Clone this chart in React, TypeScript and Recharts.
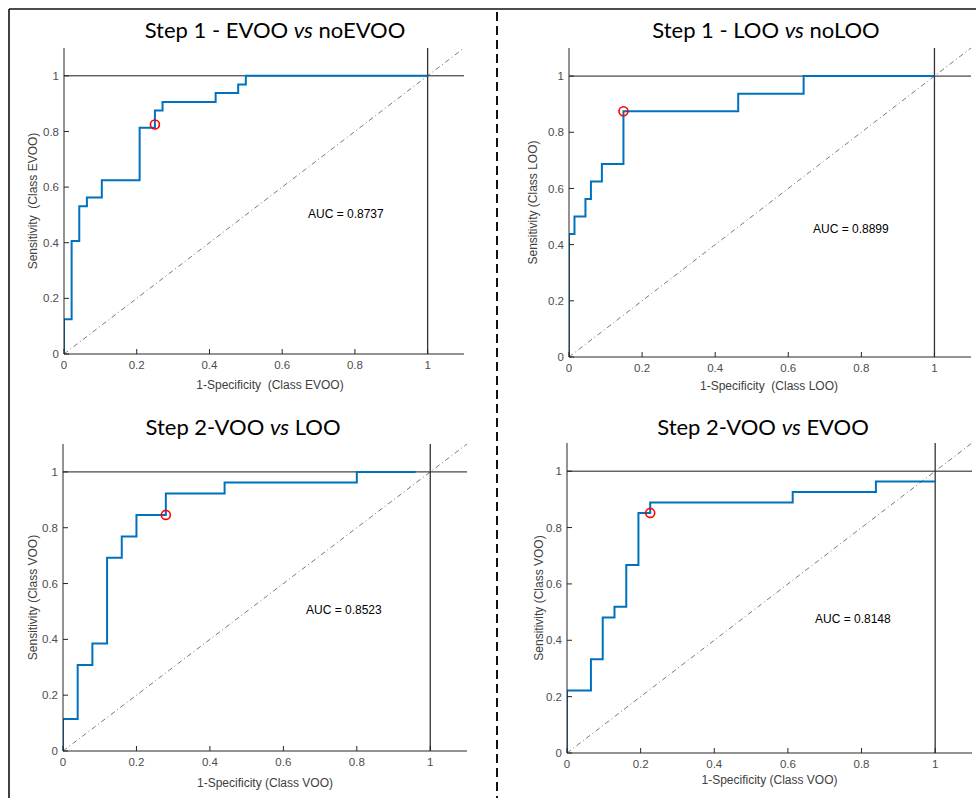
import React from 'react';
import { LineChart, Line, XAxis, YAxis, ReferenceLine, ReferenceDot, Label } from 'recharts';

const xTicks = [0, 0.2, 0.4, 0.6, 0.8, 1];
const yTicks = [0, 0.2, 0.4, 0.6, 0.8, 1];

// ROC steps: at each 1-specificity value the sensitivity rises to the matching tpr value
const evooFpr = [0, 0, 0.021, 0.042, 0.063, 0.104, 0.208, 0.25, 0.271, 0.417, 0.479, 0.5, 1];
const evooTpr = [0, 0.125, 0.406, 0.531, 0.563, 0.625, 0.813, 0.875, 0.906, 0.938, 0.969, 1, 1];
const evooOpt = [0.25, 0.825];

const looFpr = [0, 0, 0.015, 0.045, 0.06, 0.09, 0.149, 0.463, 0.642, 1];
const looTpr = [0, 0.4375, 0.5, 0.5625, 0.625, 0.6875, 0.875, 0.9375, 1, 1];
const looOpt = [0.149, 0.875];

const vooLooFpr = [0, 0, 0.04, 0.08, 0.12, 0.16, 0.2, 0.28, 0.44, 0.8, 0.96];
const vooLooTpr = [0, 0.115, 0.308, 0.385, 0.692, 0.769, 0.846, 0.923, 0.962, 1, 1];
const vooLooOpt = [0.28, 0.846];

const vooEvooFpr = [0, 0, 0.065, 0.097, 0.129, 0.161, 0.194, 0.226, 0.613, 0.839, 1];
const vooEvooTpr = [0, 0.222, 0.333, 0.481, 0.519, 0.667, 0.852, 0.889, 0.926, 0.963, 0.963];
const vooEvooOpt = [0.226, 0.852];

const aucValues = ['0.8737', '0.8899', '0.8523', '0.8148'];

const tickStyle = { fontFamily: 'Liberation Sans, Arial', fontSize: 11.5, fill: '#4d4d4d' };
const labelStyle = { fontFamily: 'Liberation Sans, Arial', fontSize: 12, fill: '#404040' };
const AXIS = '#262626';
const NB = '\u00a0';

type Box = { x: number; y: number; w: number; h: number };

interface PanelProps {
    title: React.ReactNode;
    titlePos: [number, number];
    fpr: number[];
    tpr: number[];
    opt: number[];
    auc: string;
    aucPos: [number, number];
    xLabel: string;
    yLabel: string;
    box: Box;
    xLabelOffset: number;
    xLabelDx: number;
    yLabelOffset: number;
}

function RocPanel(p: PanelProps) {
    const data = p.fpr.map((x, i) => ({ x, y: p.tpr[i] }));
    const left = 60, top = 20, bottom = 50, right = 10;

    return (
        <>
            <div style={{
                position: 'absolute', left: p.titlePos[0] - 200, top: p.titlePos[1] - 15, width: 400,
                textAlign: 'center', fontFamily: 'Lato', fontSize: 22, lineHeight: '30px', color: '#000'
            }}>{p.title}</div>
            <div style={{ position: 'absolute', left: p.box.x - left, top: p.box.y - top }}>
                <LineChart
                    width={p.box.w + left + right}
                    height={p.box.h + top + bottom}
                    data={data}
                    margin={{ top, right, bottom: 0, left: 20 }}
                >
                    <XAxis
                        type="number" dataKey="x" domain={[0, 1.1]} ticks={xTicks} allowDataOverflow
                        height={bottom} tickSize={-5} tickMargin={12} tick={tickStyle}
                        stroke={AXIS} axisLine={{ stroke: AXIS }} tickLine={{ stroke: AXIS }}
                    >
                        <Label value={p.xLabel} position="insideTop" offset={p.xLabelOffset} dx={p.xLabelDx} style={labelStyle} />
                    </XAxis>
                    <XAxis
                        xAxisId="top" orientation="top" type="number" domain={[0, 1.1]} ticks={xTicks}
                        height={0} tickSize={-5} tick={false} axisLine={{ stroke: AXIS }} tickLine={{ stroke: AXIS }}
                    />
                    <YAxis
                        type="number" domain={[0, 1.1]} ticks={yTicks} allowDataOverflow
                        width={40} tickSize={-5} tickMargin={10} tick={tickStyle}
                        axisLine={{ stroke: AXIS }} tickLine={{ stroke: AXIS }}
                    >
                        <Label value={p.yLabel} position="insideLeft" angle={-90} offset={p.yLabelOffset}
                            style={{ ...labelStyle, textAnchor: 'middle' }} />
                    </YAxis>
                    <YAxis
                        yAxisId="right" orientation="right" type="number" domain={[0, 1.1]} ticks={yTicks}
                        width={0} tickSize={-5} tick={false} axisLine={{ stroke: AXIS }} tickLine={{ stroke: AXIS }}
                    />
                    <ReferenceLine
                        segment={[{ x: 0, y: 0 }, { x: 1.1, y: 1.1 }]}
                        stroke="#555" strokeWidth={0.8} strokeDasharray="5 3 1 3"
                    />
                    <ReferenceLine y={1} stroke="#1a1a1a" strokeWidth={1} />
                    <ReferenceLine x={1} stroke="#333" strokeWidth={1.3} />
                    <Line
                        type="stepAfter" dataKey="y" stroke="#0072BD" strokeWidth={2}
                        dot={false} activeDot={false} isAnimationActive={false}
                    />
                    <ReferenceDot x={p.opt[0]} y={p.opt[1]} r={4.5} fill="none" stroke="#FF0000" strokeWidth={1.6} />
                </LineChart>
            </div>
            <div style={{
                position: 'absolute', left: p.aucPos[0], top: p.aucPos[1] - 7,
                fontFamily: 'Liberation Sans, Arial', fontSize: 12, lineHeight: '14px', color: '#000', whiteSpace: 'pre'
            }}>AUC = {p.auc}</div>
        </>
    );
}

export default function App() {
    return (
        <div style={{ position: 'absolute', left: 0, top: 0, width: 976, height: 798, background: '#fff', overflow: 'hidden' }}>
            {/* outer frame and divider */}
            <svg width={976} height={798} style={{ position: 'absolute', left: 0, top: 0 }}>
                <line x1={9} y1={9} x2={976} y2={9} stroke="#111" strokeWidth={1.6} />
                <line x1={9} y1={9} x2={9} y2={798} stroke="#111" strokeWidth={1.6} />
                <line x1={497} y1={12} x2={497} y2={798} stroke="#111" strokeWidth={2} strokeDasharray="9 5" />
            </svg>

            <RocPanel
                title={<>Step 1 - EVOO <i>vs</i> noEVOO</>} titlePos={[275, 30]}
                fpr={evooFpr} tpr={evooTpr} opt={evooOpt}
                auc={aucValues[0]} aucPos={[308, 214]}
                xLabel={`1-Specificity${NB} (Class EVOO)`} yLabel={`Sensitivity${NB} (Class EVOO)`}
                box={{ x: 64, y: 48, w: 400, h: 306 }}
                xLabelOffset={26} xLabelDx={6} yLabelOffset={9}
            />
            <RocPanel
                title={<>Step 1 - LOO <i>vs</i> noLOO</>} titlePos={[766, 30]}
                fpr={looFpr} tpr={looTpr} opt={looOpt}
                auc={aucValues[1]} aucPos={[813, 229]}
                xLabel={`1-Specificity${NB} (Class LOO)`} yLabel="Sensitivity (Class LOO)"
                box={{ x: 569, y: 48, w: 402, h: 309 }}
                xLabelOffset={24} xLabelDx={-1} yLabelOffset={4}
            />
            <RocPanel
                title={<>Step 2-VOO <i>vs</i> LOO</>} titlePos={[243, 427]}
                fpr={vooLooFpr} tpr={vooLooTpr} opt={vooLooOpt}
                auc={aucValues[2]} aucPos={[306, 610]}
                xLabel="1-Specificity (Class VOO)" yLabel="Sensitivity (Class VOO)"
                box={{ x: 63, y: 444, w: 404, h: 307 }}
                xLabelOffset={27} xLabelDx={0} yLabelOffset={10}
            />
            <RocPanel
                title={<>Step 2-VOO <i>vs</i> EVOO</>} titlePos={[763, 427]}
                fpr={vooEvooFpr} tpr={vooEvooTpr} opt={vooEvooOpt}
                auc={aucValues[3]} aucPos={[815, 619]}
                xLabel="1-Specificity (Class VOO)" yLabel="Sensitivity (Class VOO)"
                box={{ x: 567, y: 443, w: 405, h: 310 }}
                xLabelOffset={22} xLabelDx={0} yLabelOffset={12}
            />
        </div>
    );
}
